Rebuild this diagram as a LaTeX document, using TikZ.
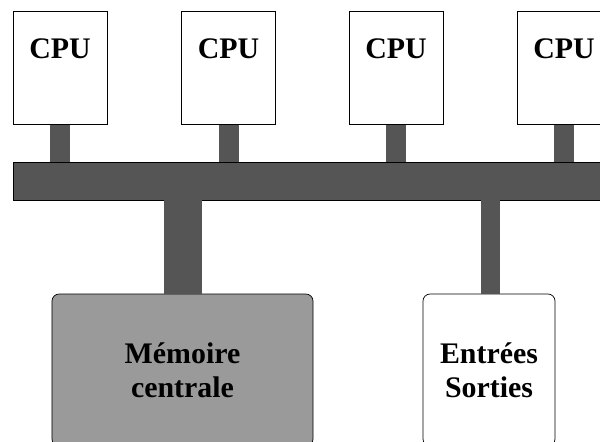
\documentclass[tikz,border=0pt]{standalone}
\usepackage{fontspec}
\setmainfont{Liberation Serif}
\usepackage{xcolor}
\usetikzlibrary{positioning,calc}

\definecolor{busgray}{HTML}{555555}
\definecolor{memgray}{HTML}{9A9A9A}

\begin{document}
\begin{tikzpicture}[
  font=\bfseries\fontsize{17}{19.5}\selectfont,
  cpubox/.style={rectangle, draw, fill=white, minimum width=1.88cm, minimum height=2.26cm, anchor=north},
  unitbox/.style={rectangle, draw, rounded corners=4pt, minimum height=3.04cm, align=center},
  bus/.style={rectangle, draw, fill=busgray, minimum width=12.04cm, minimum height=0.76cm},
  stem/.style={draw=busgray, line width=#1}
]
  \useasboundingbox (0,0) rectangle (12,-8.82);
  \clip (0,0) rectangle (12,-8.82);

  % processors
  \foreach \i/\x in {1/1.2, 2/4.57, 3/7.92, 4/11.28}
    \node[cpubox, label={[anchor=north, inner sep=0pt, yshift=-0.54cm]north:CPU}] (cpu\i) at (\x,-0.22) {};

  % bus
  \node[bus] (sysbus) at (6.28,-3.62) {};

  % memory and i/o
  \node[unitbox, fill=memgray, minimum width=5.22cm] (mem) at (3.65,-7.4) {Mémoire\\centrale};
  \node[unitbox, fill=white, minimum width=2.64cm] (io) at (9.78,-7.4) {Entrées\\Sorties};

  % links to the bus
  \foreach \i in {1,...,4}
    \draw[stem=0.4cm] (cpu\i.south) -- (cpu\i.south |- sysbus.north);
  \draw[stem=0.76cm] (sysbus.south -| mem.north) -- (mem.north);
  \draw[stem=0.38cm] ($(sysbus.south -| io.north)+(0.03,0)$) -- ($(io.north)+(0.03,0)$);
\end{tikzpicture}
\end{document}
